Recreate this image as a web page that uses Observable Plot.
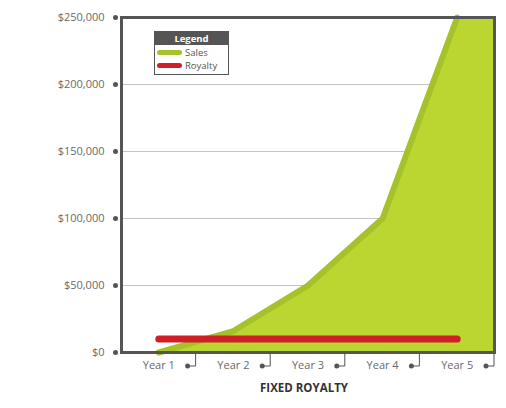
<!DOCTYPE html>
<html>
<head>
<meta charset="utf-8">
<script src="https://cdn.jsdelivr.net/npm/d3@7"></script>
<script src="https://cdn.jsdelivr.net/npm/@observablehq/plot@0.6"></script>
<style>
  html, body { margin: 0; padding: 0; background: #fff; }
  #wrap { position: relative; width: 506px; height: 408px; }
  #legend { position: absolute; left: 154px; top: 31px; width: 73px; border: 1.5px solid #555; background: #fff; font-family: "Open Sans", sans-serif; padding-bottom: 2px; }
  #legend .hd { background: #555; color: #fff; font-weight: bold; font-size: 9.5px; text-align: center; line-height: 13px; margin-bottom: 1px; }
  #legend .row { display: flex; align-items: center; font-size: 9.5px; color: #555; line-height: 13px; height: 13px; padding-left: 2px; }
  #legend .sw { width: 25px; height: 5px; border-radius: 3px; margin-right: 3px; }
</style>
</head>
<body>
<div id="wrap"><div id="chart"></div><div id="legend"></div></div>
<script>
const years = [1, 2, 3, 4, 5];
const yearLabels = ["Year 1", "Year 2", "Year 3", "Year 4", "Year 5"];
const sales = [0, 16000, 50000, 100000, 250000];
const royalty = [10000, 10000, 10000, 10000, 10000];
const yTicks = [0, 50000, 100000, 150000, 200000, 250000];
const title = "FIXED ROYALTY";
const seriesNames = ["Sales", "Royalty"];
const colors = { area: "#bcd631", sales: "#a6c22b", royalty: "#d01f26", frame: "#555", grid: "#c4c4c4" };

const salesData = years.map((y, i) => ({ year: y, value: sales[i] }));
const royaltyData = years.map((y, i) => ({ year: y, value: royalty[i] }));
const xDomain = [years[0] - 0.5, years[years.length - 1] + 0.5];
// area continues at the last value to the right edge of the domain
const areaData = salesData.concat([{ year: xDomain[1], value: sales[sales.length - 1] }]);
const edges = years.map(y => y + 0.5);

const hooks = (index, scales, values, dims) => {
  const g = d3.create("svg:g");
  const yb = dims.height - dims.marginBottom;
  for (const e of edges) {
    const x = scales.x(e);
    g.append("path").attr("d", `M${x - 8},${yb + 14}H${x}V${yb}`)
      .attr("fill", "none").attr("stroke", colors.frame).attr("stroke-width", 1);
    g.append("circle").attr("cx", x - 8).attr("cy", yb + 14).attr("r", 2.5).attr("fill", colors.frame);
  }
  return g.node();
};

const chart = Plot.plot({
  width: 506,
  height: 408,
  marginLeft: 121,
  marginRight: 12,
  marginTop: 17,
  marginBottom: 56,
  style: { fontFamily: "Open Sans, sans-serif", fontSize: "11px", color: "#666", background: "#fff" },
  x: { type: "linear", domain: xDomain },
  y: { domain: [0, 250000] },
  marks: [
    Plot.gridY(yTicks.filter(d => d > 0), { stroke: colors.grid, strokeOpacity: 1, strokeWidth: 1 }),
    Plot.areaY(areaData, { x: "year", y: "value", fill: colors.area }),
    Plot.line(salesData, { x: "year", y: "value", stroke: colors.sales, strokeWidth: 6, strokeLinecap: "round", strokeLinejoin: "round" }),
    Plot.line(royaltyData, { x: "year", y: "value", stroke: colors.royalty, strokeWidth: 7, strokeLinecap: "round" }),
    Plot.axisY(yTicks, { tickSize: 0, tickPadding: 17, tickFormat: d3.format("$,"), fill: "#6a6a6a", fontSize: 11, label: null }),
    Plot.dot(yTicks, { y: d => d, frameAnchor: "left", dx: -6, r: 2.5, fill: colors.frame }),
    Plot.axisX(years, { tickSize: 0, tickPadding: 9, tickFormat: (d, i) => yearLabels[i], fill: "#6a6a6a", fontSize: 11, label: null }),
    hooks,
    Plot.text([title], { text: d => d, frameAnchor: "bottom", dy: 39, dx: -4, fontWeight: "bold", fontSize: 11.5, fill: "#333", letterSpacing: "0.4px" }),
    Plot.frame({ stroke: colors.frame, strokeWidth: 3 })
  ]
});
document.getElementById("chart").appendChild(chart);

const legend = document.getElementById("legend");
legend.innerHTML = `<div class="hd">Legend</div>` +
  seriesNames.map((n, i) => `<div class="row"><div class="sw" style="background:${i === 0 ? colors.sales : colors.royalty}"></div>${n}</div>`).join("");
</script>
</body>
</html>
